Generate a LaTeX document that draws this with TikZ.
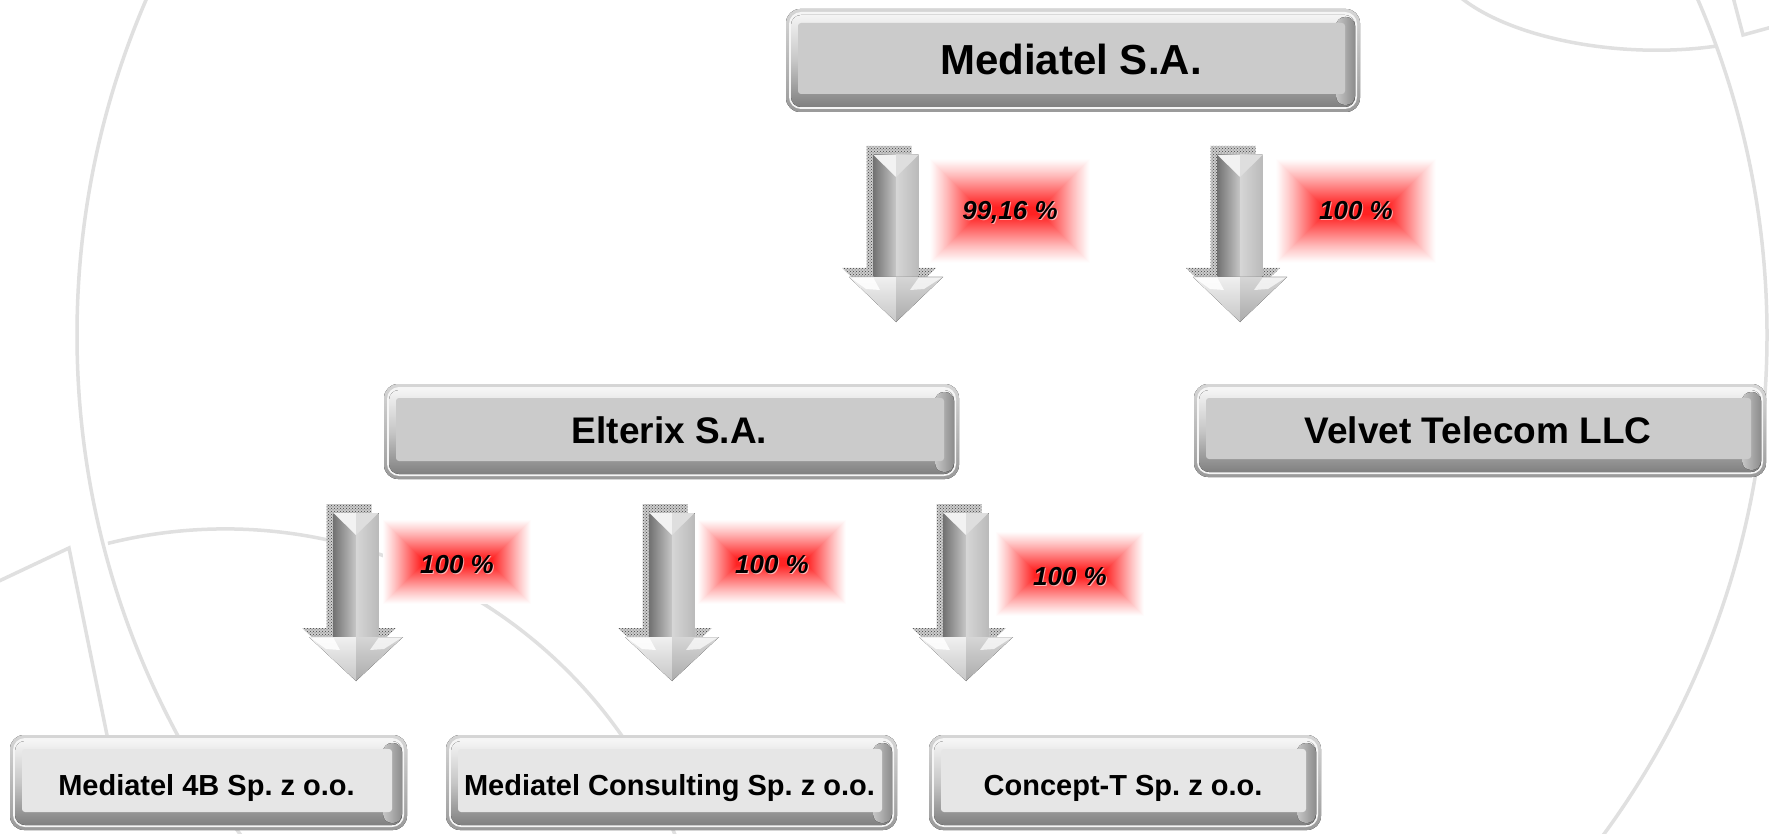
\documentclass[tikz,border=0pt]{standalone}
\usepackage{fontspec}
\setmainfont{Liberation Sans}
\usetikzlibrary{patterns}
\definecolor{arcgray}{HTML}{E0E0E0}
\definecolor{ringT}{HTML}{D6D6D6}
\definecolor{ringB}{HTML}{9A9A9A}
\definecolor{bevT}{HTML}{F4F4F4}
\definecolor{bevM}{HTML}{C6C6C6}
\definecolor{bevB}{HTML}{808080}
\definecolor{bevR}{HTML}{8C8C8C}
\definecolor{faceA}{HTML}{CBCBCB}
\definecolor{faceB}{HTML}{E6E6E6}
\definecolor{glowred}{HTML}{FF1A1A}
\tikzset{
  bgline/.style={arcgray, line width=3.5pt},
  tA/.style={font=\fontsize{42}{50}\selectfont\bfseries},
  tB/.style={font=\fontsize{37}{44}\selectfont\bfseries},
  tC/.style={font=\fontsize{29}{34}\selectfont\bfseries},
  lbl/.style={font=\fontsize{26}{30}\selectfont\bfseries\itshape},
}
% name x1 y1 x2 y2 face baseline style text
\newcommand\bevelbox[9]{%
  \fill[rounded corners=14, top color=ringT, bottom color=ringB] (#2,#3) rectangle (#4,#5);
  \fill[rounded corners=12, white!96!black] ({#2+3},{#3+3}) rectangle ({#4-3},{#5-3});
  \fill[rounded corners=10, top color=bevT, bottom color=bevB, middle color=bevM] ({#2+5},{#3+6}) rectangle ({#4-5},{#5-5});
  \fill[rounded corners=9, left color=bevM, right color=bevR] ({#4-24},{#3+8}) rectangle ({#4-5},{#5-7});
  \fill[#6, rounded corners=3] ({#2+12},{#3+14}) rectangle ({#4-15},{#5-18});
  \node[#8, anchor=base, inner sep=0pt] (#1) at ({(#2+#4)/2-2},#7) {#9};
}
% cx ytop yhead ytip
\newcommand\garrow[4]{%
  \fill[black!20, shift={(-7,-9)}] ({#1-22.5},#2) -- ({#1+22.5},#2) -- ({#1+22.5},#3) -- ({#1+47},#3) -- (#1,#4) -- ({#1-47},#3) -- ({#1-22.5},#3) -- cycle;
  \fill[pattern=crosshatch dots, pattern color=black!75, shift={(-7,-9)}] ({#1-22.5},#2) -- ({#1+22.5},#2) -- ({#1+22.5},#3) -- ({#1+47},#3) -- (#1,#4) -- ({#1-47},#3) -- ({#1-22.5},#3) -- cycle;
  \fill[left color=black!55, right color=black!22] ({#1-22.5},#2) rectangle (#1,#3);
  \fill[left color=black!16, right color=black!27] (#1,#2) rectangle ({#1+22.5},#3);
  \fill[black!5] ({#1-22.5},#2) -- (#1,#2) -- (#1,{#2+22}) -- cycle;
  \fill[black!13] ({#1+22.5},#2) -- (#1,#2) -- (#1,{#2+22}) -- cycle;
  \fill[top color=black!6, bottom color=black!22] ({#1-47},#3) -- (#1,#3) -- (#1,#4) -- cycle;
  \fill[top color=black!16, bottom color=black!33] ({#1+47},#3) -- (#1,#3) -- (#1,#4) -- cycle;
  \fill[white, opacity=0.85] ({#1-45},{#3+1}) -- ({#1-22.5},{#3+1}) -- ({#1-16},{#3+13}) -- ({#1-30},{#3+12}) -- cycle;
  \fill[white, opacity=0.7] ({#1+45},{#3+1}) -- ({#1+22.5},{#3+1}) -- ({#1+14},{#3+13}) -- ({#1+28},{#3+12}) -- cycle;
}
% name cx cy hw hh baseline text
\newcommand\glowlabel[7]{%
  \fill[white] ({#2-#4},{#3-#5}) rectangle ({#2+#4},{#3+#5});
  \pgfmathtruncatemacro\glowN{#5-3}%
  \foreach \k [evaluate=\k as \op using {0.95*(pow(\k/\glowN,1.2)-pow((\k-0.999)/\glowN,1.2))/(1-0.95*pow((\k-0.999)/\glowN,1.2))}] in {1,...,\glowN}{%
    \fill[glowred, opacity=\op] ({#2-#4+\k-1},{#3-#5+\k-1}) rectangle ({#2+#4-\k+1},{#3+#5-\k+1});
  }
  \node[lbl, anchor=base, inner sep=0pt, white, opacity=0.6] at ({#2+1},{#6+1}) {#7};
  \node[lbl, anchor=base, inner sep=0pt] (#1) at (#2,#6) {#7};
}
\begin{document}
\frenchspacing
\begin{tikzpicture}[x=1pt,y=-1pt]
\useasboundingbox (0,0) rectangle (1769,834);
\fill[white] (0,0) rectangle (1769,834);
% background arcs
\begin{scope}
  \clip (0,0) rectangle (1769,834);
  \draw[bgline] (922,335) circle[radius=845];
  \draw[bgline] ([shift={(-104:484)}]225,1013) arc[start angle=-104, end angle=-18, radius=484];
  \draw[bgline] (-3,582) -- (69,548) -- (109,745);
  \draw[bgline] (1460,-3) .. controls (1510,38) and (1620,60) .. (1717,46);
  \draw[bgline] (1733,-3) -- (1743,35) -- (1772,27);
\end{scope}
% boxes
\bevelbox{mediatel}{786}{9}{1360}{112}{faceA}{75}{tA}{Mediatel S.A.}
\bevelbox{elterix}{384}{384}{959}{479}{faceA}{443}{tB}{Elterix S.A.}
\bevelbox{velvet}{1194}{384}{1766}{477}{faceA}{443}{tB}{Velvet Telecom LLC}
\bevelbox{m4b}{10}{735}{407}{830}{faceB}{795}{tC}{Mediatel 4B Sp. z o.o.}
\bevelbox{mcons}{446}{735}{897}{830}{faceB}{795}{tC}{Mediatel Consulting Sp. z o.o.}
\bevelbox{concept}{929}{735}{1321}{830}{faceB}{795}{tC}{Concept-T Sp. z o.o.}
% arrows
\garrow{896}{155}{277}{322}
\garrow{1240}{155}{277}{322}
\garrow{356}{513}{637}{681}
\garrow{672}{513}{637}{681}
\garrow{966}{513}{637}{681}
% labels
\glowlabel{p1}{1010}{211}{80}{52}{220}{99,16 \%}
\glowlabel{p2}{1356}{211}{80}{52}{220}{100 \%}
\glowlabel{p3}{457}{562}{74}{42}{573}{100 \%}
\glowlabel{p4}{772}{562}{74}{42}{573}{100 \%}
\glowlabel{p5}{1070}{574}{74}{42}{585}{100 \%}
\end{tikzpicture}
\end{document}
